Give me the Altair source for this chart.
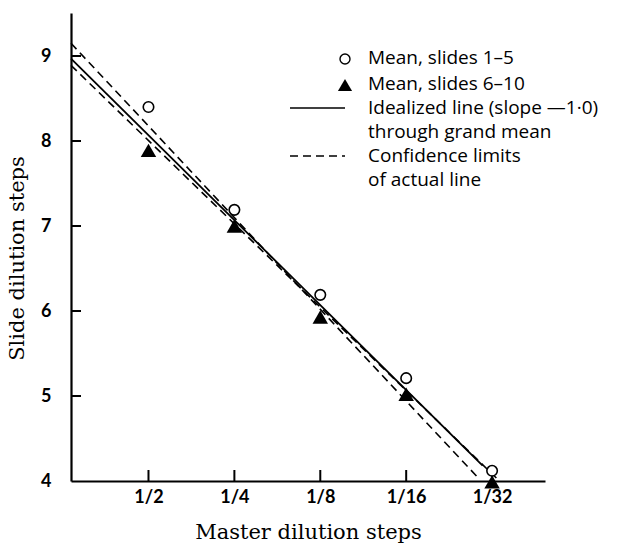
import altair as alt
import pandas as pd

# ---- data ----
steps = [1, 2, 3, 4, 5]
step_labels = ["1/2", "1/4", "1/8", "1/16", "1/32"]
mean_1_5 = [8.40, 7.19, 6.19, 5.21, 4.12]
mean_6_10 = [7.89, 7.00, 5.93, 5.02, 3.99]
y_ticks = [5, 6, 7, 8, 9]
y_labels = [4, 5, 6, 7, 8, 9]

ideal_x = [0.098, 4.89]
ideal_y = [8.97, 4.18]
conf_a_x = [0.098, 4.84]
conf_a_y = [9.15, 4.035]
conf_b_x = [0.098, 5.05]
conf_b_y = [8.89, 4.035]

legend_texts = [
    "Mean, slides 1\u20135",
    "Mean, slides 6\u201310",
    "Idealized line (slope \u20141\u00b70)",
    "through grand mean",
    "Confidence limits",
    "of actual line",
]

X_DOMAIN = [0.098, 5.616]
Y_DOMAIN = [4, 9.506]
W, H = 474, 468

pts = pd.DataFrame({"step": steps, "a": mean_1_5, "b": mean_6_10})
lines = pd.DataFrame({
    "x": ideal_x + conf_a_x + conf_b_x,
    "y": ideal_y + conf_a_y + conf_b_y,
    "kind": ["ideal"] * 2 + ["conf"] * 4,
    "id": ["i"] * 2 + ["ca"] * 2 + ["cb"] * 2,
})

label_expr = "[" + ",".join("'%s'" % s for s in step_labels) + "][datum.value - 1]"

xs = alt.Scale(domain=X_DOMAIN, nice=False, zero=False)
ys = alt.Scale(domain=Y_DOMAIN, nice=False, zero=False)

x_axis = alt.Axis(values=steps, labelExpr=label_expr, ticks=False, grid=False,
                  domainColor="black", domainWidth=2.2, labelFont="Lato",
                  labelFontWeight="bold", labelFontSize=18, labelColor="black",
                  labelPadding=7, title="Master dilution steps",
                  titleFont="DejaVu Serif", titleFontWeight="normal",
                  titleFontSize=21, titleColor="black", titlePadding=15)
y_axis = alt.Axis(values=y_labels, format="d", ticks=False, grid=False,
                  domainColor="black", domainWidth=2.2, labelFont="Lato",
                  labelFontWeight="bold", labelFontSize=18, labelColor="black",
                  labelPadding=20, title="Slide dilution steps", titleY=245,
                  titleFont="DejaVu Serif", titleFontWeight="normal",
                  titleFontSize=21, titleColor="black", titlePadding=13)

base_lines = alt.Chart(lines)
ideal = base_lines.transform_filter("datum.kind == 'ideal'").mark_line(
    color="black", strokeWidth=1.8
).encode(
    x=alt.X("x:Q", scale=xs, axis=x_axis),
    y=alt.Y("y:Q", scale=ys, axis=y_axis),
    detail="id:N",
)
conf = base_lines.transform_filter("datum.kind == 'conf'").mark_line(
    color="black", strokeWidth=1.6, strokeDash=[8, 5]
).encode(x=alt.X("x:Q", scale=xs), y=alt.Y("y:Q", scale=ys), detail="id:N")

xticks = alt.Chart(pd.DataFrame({"step": steps})).mark_rule(
    color="black", strokeWidth=2
).encode(x=alt.X("step:Q", scale=xs), y=alt.value(H), y2=alt.value(H - 11))
yticks = alt.Chart(pd.DataFrame({"v": y_ticks})).mark_rule(
    color="black", strokeWidth=2
).encode(y=alt.Y("v:Q", scale=ys), x=alt.value(0), x2=alt.value(10))

circles = alt.Chart(pts).mark_point(
    shape="circle", filled=True, fill="white", stroke="black", strokeWidth=1.6,
    size=110, opacity=1
).encode(x=alt.X("step:Q", scale=xs), y=alt.Y("a:Q", scale=ys))
tris = alt.Chart(pts).mark_point(
    shape="triangle-up", filled=True, color="black", size=240, opacity=1
).encode(x=alt.X("step:Q", scale=xs), y=alt.Y("b:Q", scale=ys))

# ---- hand-made legend (top right) ----
one = pd.DataFrame({"k": [0]})
LX_SYM, LX_TXT = 274, 297
leg_y = [45, 71, 95, 119, 143, 167]
legend_layers = []
for t, yy in zip(legend_texts, leg_y):
    legend_layers.append(
        alt.Chart(one).mark_text(text=t, align="left", baseline="middle",
                                 font="Open Sans", fontSize=19, color="black")
        .encode(x=alt.value(LX_TXT), y=alt.value(yy))
    )
legend_layers.append(
    alt.Chart(one).mark_point(shape="circle", filled=True, fill="white",
                              stroke="black", strokeWidth=1.4, size=100, opacity=1)
    .encode(x=alt.value(LX_SYM), y=alt.value(leg_y[0] + 1))
)
legend_layers.append(
    alt.Chart(one).mark_point(shape="triangle-up", filled=True, color="black",
                              size=200, opacity=1)
    .encode(x=alt.value(LX_SYM), y=alt.value(leg_y[1] + 1))
)
legend_layers.append(
    alt.Chart(one).mark_rule(color="black", strokeWidth=1.6)
    .encode(x=alt.value(219), x2=alt.value(LX_SYM), y=alt.value(leg_y[2]))
)
legend_layers.append(
    alt.Chart(one).mark_rule(color="black", strokeWidth=1.6, strokeDash=[8, 5])
    .encode(x=alt.value(219), x2=alt.value(LX_SYM), y=alt.value(leg_y[4]))
)

chart = alt.layer(ideal, conf, xticks, yticks, circles, tris, *legend_layers).properties(
    width=W, height=H,
    autosize=alt.AutoSizeParams(type="none"),
    padding={"left": 71, "top": 13, "right": 76, "bottom": 67},
    background="white",
).configure_view(stroke=None)

chart.save("out.html", embed_options={"renderer": "svg", "actions": False})
